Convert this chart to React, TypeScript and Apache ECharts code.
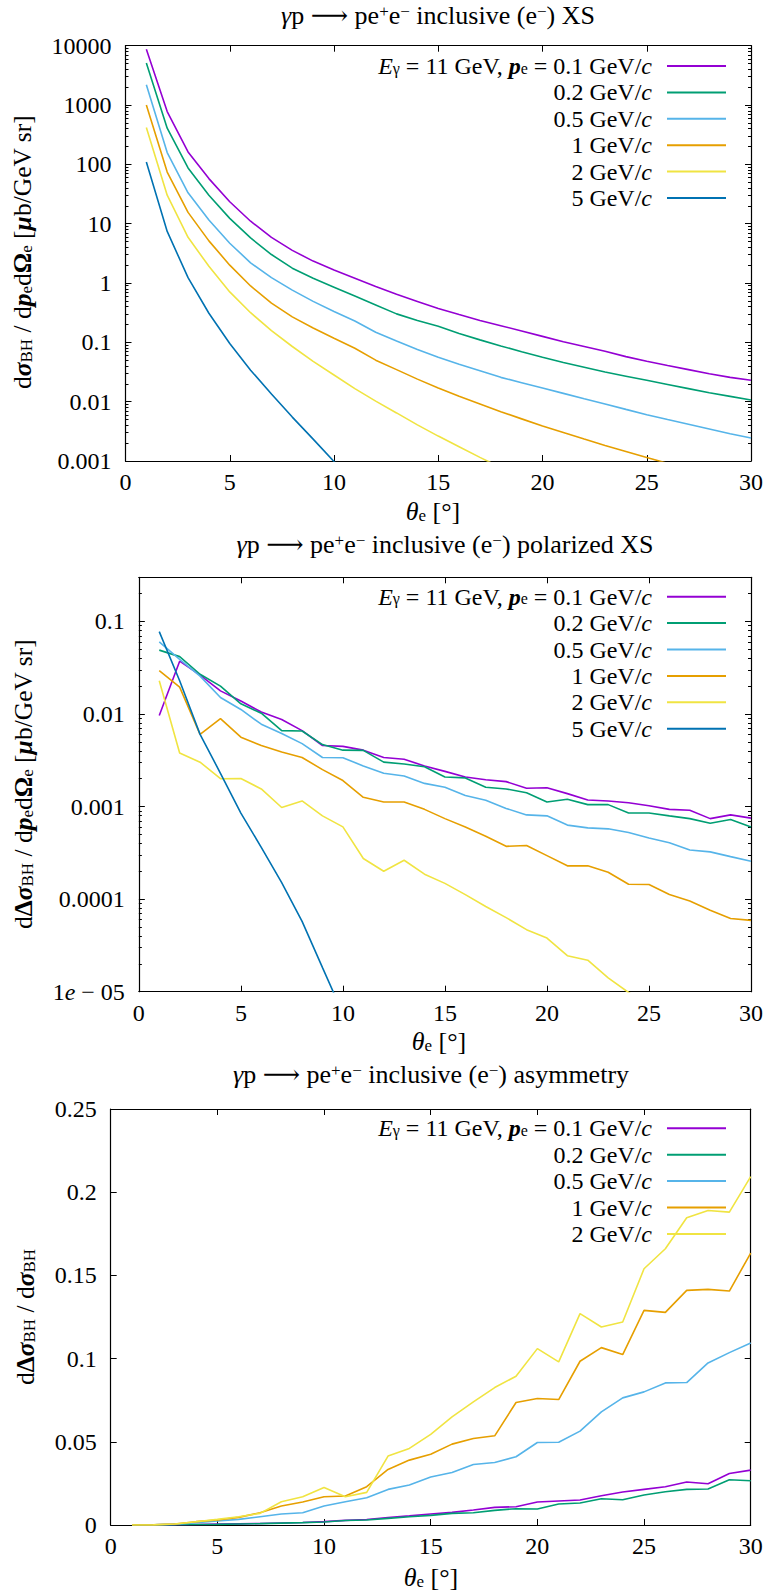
import { useEffect, useRef } from 'react';
import * as echarts from 'echarts';

const FONT = "'Liberation Serif', 'DejaVu Serif', serif";

const THETA = [1, 2, 3, 4, 5, 6, 7, 8, 9, 10, 11, 12, 13, 14, 15, 16, 17, 18, 19, 20, 21, 22, 23, 24, 25, 26, 27, 28, 29, 30];
const MOMENTA = ['0.1', '0.2', '0.5', '1', '2', '5'];
const COLORS = ['#9400d3', '#009e73', '#56b4e9', '#e69f00', '#f0e442', '#0072b2'];
const X_TICKS = [0, 30, 5];

// Panel 1: unpolarized cross section
const xs01 = [8710, 776, 162, 57.5, 23.4, 11.0, 5.89, 3.55, 2.34, 1.66, 1.20, 0.871, 0.646, 0.490, 0.372, 0.295, 0.234, 0.191, 0.155, 0.126, 0.102, 0.0851, 0.0708, 0.0575, 0.0479, 0.0407, 0.0347, 0.0295, 0.0257, 0.0229];
const xs02 = [5130, 407, 87.1, 30.2, 12.3, 5.75, 3.02, 1.78, 1.20, 0.851, 0.603, 0.427, 0.302, 0.234, 0.186, 0.141, 0.110, 0.0871, 0.0692, 0.0562, 0.0457, 0.0380, 0.0316, 0.0269, 0.0229, 0.0195, 0.0166, 0.0141, 0.0123, 0.0107];
const xs05 = [2190, 158, 33.1, 11.5, 4.68, 2.19, 1.23, 0.759, 0.490, 0.331, 0.229, 0.148, 0.105, 0.0759, 0.0562, 0.0427, 0.0331, 0.0257, 0.0209, 0.0170, 0.0138, 0.0112, 0.00912, 0.00741, 0.00603, 0.00501, 0.00417, 0.00347, 0.00288, 0.00245];
const xs1 = [1000, 74.1, 15.5, 5.13, 2.00, 0.891, 0.457, 0.269, 0.174, 0.117, 0.0794, 0.0501, 0.0347, 0.0240, 0.0170, 0.0123, 0.00912, 0.00676, 0.00513, 0.00389, 0.00302, 0.00234, 0.00182, 0.00145, 0.00115, 0.000912];
const xs2 = [417, 30.2, 5.89, 1.91, 0.708, 0.316, 0.158, 0.0851, 0.0479, 0.0282, 0.0166, 0.0102, 0.00646, 0.00407, 0.00263, 0.00174, 0.00115, 0.000776];
const xs5 = [110, 7.41, 1.23, 0.309, 0.0955, 0.0339, 0.0135, 0.0055, 0.00234, 0.00098, 0.000437];

// Panel 2: polarized cross section
const px01 = [0.00964, 0.0372, 0.0263, 0.0178, 0.0138, 0.0105, 0.00871, 0.00661, 0.00457, 0.00447, 0.00407, 0.00339, 0.00324, 0.00275, 0.00240, 0.00209, 0.00195, 0.00186, 0.00158, 0.00160, 0.00138, 0.00118, 0.00115, 0.00110, 0.00102, 0.000933, 0.000912, 0.000741, 0.000813, 0.00075];
const px02 = [0.0490, 0.0417, 0.0269, 0.0200, 0.0129, 0.0102, 0.00661, 0.00655, 0.00468, 0.00407, 0.00405, 0.00302, 0.00288, 0.00269, 0.00209, 0.00204, 0.00162, 0.00155, 0.00141, 0.00112, 0.00120, 0.00105, 0.00105, 0.000851, 0.000851, 0.000794, 0.000741, 0.000661, 0.000724, 0.000603];
const px05 = [0.0603, 0.0389, 0.0257, 0.0151, 0.0112, 0.00776, 0.00617, 0.00479, 0.00339, 0.00337, 0.00275, 0.00229, 0.00214, 0.00178, 0.00162, 0.00132, 0.00117, 0.000955, 0.000813, 0.000794, 0.000631, 0.000589, 0.000575, 0.000525, 0.000457, 0.000407, 0.000339, 0.000324, 0.000288, 0.000257];
const px1 = [0.0295, 0.0195, 0.00603, 0.00891, 0.00562, 0.00457, 0.00389, 0.00339, 0.00251, 0.00191, 0.00126, 0.00112, 0.00112, 0.000933, 0.000741, 0.000603, 0.000479, 0.000372, 0.000380, 0.000295, 0.000229, 0.000229, 0.000195, 0.000145, 0.000144, 0.000112, 0.0000955, 0.0000759, 0.0000617, 0.0000589];
const px2 = [0.0229, 0.00380, 0.00302, 0.00200, 0.00201, 0.00155, 0.000977, 0.00115, 0.000794, 0.000603, 0.000275, 0.000200, 0.000263, 0.000186, 0.000148, 0.000112, 0.0000832, 0.0000631, 0.0000468, 0.0000380, 0.0000245, 0.0000219, 0.0000141, 0.0000098, 0.0000071];
const px5 = [0.0776, 0.0229, 0.00603, 0.00229, 0.000851, 0.000363, 0.000151, 0.0000575, 0.0000182, 0.0000058];

// Panel 3: asymmetry
const as01 = [0.0000, 0.0001, 0.0002, 0.0003, 0.0005, 0.0007, 0.0009, 0.0012, 0.0015, 0.0020, 0.0028, 0.0033, 0.0045, 0.0055, 0.0066, 0.0076, 0.0090, 0.0106, 0.0110, 0.0138, 0.0144, 0.0150, 0.0176, 0.0198, 0.0214, 0.0230, 0.0258, 0.0248, 0.0310, 0.0330];
const as02 = [0.0000, 0.0001, 0.0002, 0.0003, 0.0004, 0.0006, 0.0008, 0.0011, 0.0014, 0.0018, 0.0027, 0.0030, 0.0040, 0.0050, 0.0058, 0.0070, 0.0074, 0.0088, 0.0098, 0.0096, 0.0126, 0.0132, 0.0158, 0.0152, 0.0180, 0.0200, 0.0214, 0.0216, 0.0272, 0.0266];
const as05 = [0.0000, 0.0001, 0.0004, 0.0014, 0.0024, 0.0034, 0.0050, 0.0066, 0.0074, 0.0114, 0.0140, 0.0164, 0.0214, 0.0240, 0.0288, 0.0316, 0.0364, 0.0376, 0.0410, 0.0496, 0.0497, 0.0564, 0.0680, 0.0764, 0.0800, 0.0854, 0.0856, 0.0974, 0.1036, 0.1094];
const as1 = [0.0000, 0.0001, 0.0006, 0.0020, 0.0030, 0.0046, 0.0074, 0.0114, 0.0138, 0.0170, 0.0174, 0.0230, 0.0334, 0.0390, 0.0425, 0.0486, 0.0520, 0.0536, 0.0736, 0.0760, 0.0754, 0.0984, 0.1066, 0.1024, 0.1290, 0.1278, 0.1410, 0.1416, 0.1406, 0.1634];
const as2 = [0.0000, 0.0001, 0.0006, 0.0020, 0.0034, 0.0050, 0.0070, 0.0140, 0.0170, 0.0226, 0.0170, 0.0196, 0.0414, 0.0460, 0.0545, 0.0650, 0.0740, 0.0826, 0.0894, 0.1060, 0.0980, 0.1270, 0.1190, 0.1220, 0.1540, 0.1660, 0.1846, 0.1890, 0.1880, 0.2094];

const PANEL_DATA = [
  [xs01, xs02, xs05, xs1, xs2, xs5],
  [px01, px02, px05, px1, px2, px5],
  [as01, as02, as05, as1, as2],
];

const TITLES = [
  '{i|γ}p ⟶ pe{sup|+}e{sup|−} inclusive (e{sup|−}) XS',
  '{i|γ}p ⟶ pe{sup|+}e{sup|−} inclusive (e{sup|−}) polarized XS',
  '{i|γ}p ⟶ pe{sup|+}e{sup|−} inclusive (e{sup|−}) asymmetry',
];
const Y_NAMES = [
  'd{bi|σ}{sub|BH} / d{bi|p}{sub|e}d{b|Ω}{sub|e} [{bi|μ}b/GeV sr]',
  'd{b|Δ}{bi|σ}{sub|BH} / d{bi|p}{sub|e}d{b|Ω}{sub|e} [{bi|μ}b/GeV sr]',
  'd{b|Δ}{bi|σ}{sub|BH} / d{bi|σ}{sub|BH}',
];
const X_NAME = '{i|θ}{sub|e} [°]';

const seriesName = (p: string) => `${p} GeV/c`;

const rich = (fs: number, lh: number, scriptLh = 10) => ({
  i: { fontFamily: FONT, fontStyle: 'italic', fontSize: fs, lineHeight: lh },
  bi: { fontFamily: FONT, fontStyle: 'italic', fontWeight: 'bold', fontSize: fs, lineHeight: lh },
  b: { fontFamily: FONT, fontWeight: 'bold', fontSize: fs, lineHeight: lh },
  sub: { fontFamily: FONT, fontSize: Math.round(fs * 0.66), lineHeight: scriptLh, verticalAlign: 'bottom' },
  sup: { fontFamily: FONT, fontSize: Math.round(fs * 0.66), lineHeight: scriptLh, verticalAlign: 'top' },
  g: { fontFamily: FONT, fontSize: fs, width: 10, lineHeight: lh },
});

const logLabel = (v: number) => {
  const l = Math.log10(v);
  const r = Math.round(l);
  if (Math.abs(l - r) > 1e-6) return '';
  if (r >= 0) return String(Math.round(Math.pow(10, r)));
  if (r >= -4) return Math.pow(10, r).toFixed(-r);
  return '1{ie|e} − ' + String(-r).padStart(2, '0');
};

const GRIDS = [
  { left: 125.5, top: 45.7, width: 627, height: 415.3 },
  { left: 138.85, top: 577.3, width: 612.95, height: 414.4 },
  { left: 110.7, top: 1109, width: 640, height: 416 },
];
const Y_RANGES: [number, number][] = [[0.001, 10000], [0.00001, 0.3], [0, 0.25]];
const TITLE_POS = [[438, 15], [445, 544], [431, 1074]];
const XNAME_POS = [[433, 511], [439, 1041], [431, 1577]];
const YNAME_POS = [[22, 252], [23, 784], [25, 1317]];
const LEGEND_TOP = [54, 584.7, 1116.3];

function buildOption() {
  const line = { show: true, onZero: false, lineStyle: { color: '#000', width: 1.2 } };
  const tick = { show: true, inside: true, length: 6, lineStyle: { color: '#000', width: 1 } };
  const labelStyle = { fontFamily: FONT, fontSize: 24, color: '#000' };

  const xAxis: any[] = [];
  const yAxis: any[] = [];
  GRIDS.forEach((_, g) => {
    ['bottom', 'top'].forEach((pos) => {
      xAxis.push({
        type: 'value', gridIndex: g, position: pos,
        min: X_TICKS[0], max: X_TICKS[1], interval: X_TICKS[2],
        axisLine: line, axisTick: tick,
        axisLabel: { show: pos === 'bottom', margin: 9, ...labelStyle },
        splitLine: { show: false },
      });
    });
    const isLog = g < 2;
    ['left', 'right'].forEach((pos) => {
      const ax: any = {
        type: isLog ? 'log' : 'value', gridIndex: g, position: pos,
        min: Y_RANGES[g][0], max: Y_RANGES[g][1],
        axisLine: line, axisTick: tick,
        axisLabel: {
          show: pos === 'left', margin: 14, ...labelStyle,
          rich: { ie: { fontFamily: FONT, fontSize: 24, fontStyle: 'italic', color: '#000' } },
        },
        splitLine: { show: false },
      };
      if (isLog) {
        ax.logBase = 10;
        ax.axisLabel.formatter = logLabel;
        ax.minorTick = { show: true, splitNumber: 9, length: 3, lineStyle: { color: '#000', width: 1 } };
        ax.minorSplitLine = { show: false };
      } else {
        ax.interval = 0.05;
      }
      yAxis.push(ax);
    });
  });

  const series: any[] = [];
  PANEL_DATA.forEach((arrs, g) => {
    arrs.forEach((arr, k) => {
      series.push({
        type: 'line', name: seriesName(MOMENTA[k]),
        xAxisIndex: 2 * g, yAxisIndex: 2 * g,
        data: arr.map((v, i) => [THETA[i], v]),
        showSymbol: false, symbol: 'none', clip: true,
        lineStyle: { color: COLORS[k], width: 1.6 },
        itemStyle: { color: COLORS[k] },
        emphasis: { disabled: true },
      });
    });
  });

  const legendFormatter = (name: string) => {
    if (name === seriesName(MOMENTA[0])) {
      return '{i|E}{sub|γ} = 11 GeV, {bi|p}{sub|e} = 0.1 GeV/{i|c}{g| }';
    }
    return name.replace('GeV/c', 'GeV/{i|c}') + '{g| }';
  };

  const legend = PANEL_DATA.map((arrs, g) => ({
    data: arrs.map((_, k) => seriesName(MOMENTA[k])),
    orient: 'vertical', align: 'right', right: 40, top: LEGEND_TOP[g],
    padding: 0, itemWidth: 59, itemHeight: 2, itemGap: 2.4, icon: 'rect',
    selectedMode: false,
    formatter: legendFormatter,
    textStyle: { fontFamily: FONT, fontSize: 24, color: '#000', lineHeight: 20, rich: rich(24, 20) },
  }));

  const textEl = (x: number, y: number, text: string, fs: number, lh: number, scriptLh: number, rotation = 0) => ({
    type: 'text', x, y, rotation, silent: true,
    style: {
      text, fontFamily: FONT, fontSize: fs, fill: '#000',
      align: 'center', verticalAlign: 'middle', lineHeight: lh, rich: rich(fs, lh, scriptLh),
    },
  });

  const graphic: any[] = [];
  TITLES.forEach((t, g) => graphic.push(textEl(TITLE_POS[g][0], TITLE_POS[g][1], t, 26, 24, 12)));
  XNAME_POS.forEach((p) => graphic.push(textEl(p[0], p[1], X_NAME, 26, 26, 10)));
  Y_NAMES.forEach((t, g) => graphic.push(textEl(YNAME_POS[g][0], YNAME_POS[g][1], t, 25.5, 26, 10, Math.PI / 2)));

  return {
    animation: false,
    backgroundColor: '#fff',
    grid: GRIDS,
    xAxis, yAxis, series, legend, graphic,
  };
}

export default function App() {
  const ref = useRef<HTMLDivElement>(null);
  useEffect(() => {
    const chart = echarts.init(ref.current!, null, { renderer: 'svg' });
    chart.setOption(buildOption() as any);
    return () => chart.dispose();
  }, []);
  return (
    <div
      ref={ref}
      style={{ position: 'absolute', left: 0, top: 0, width: 766, height: 1596, background: '#fff' }}
    />
  );
}
